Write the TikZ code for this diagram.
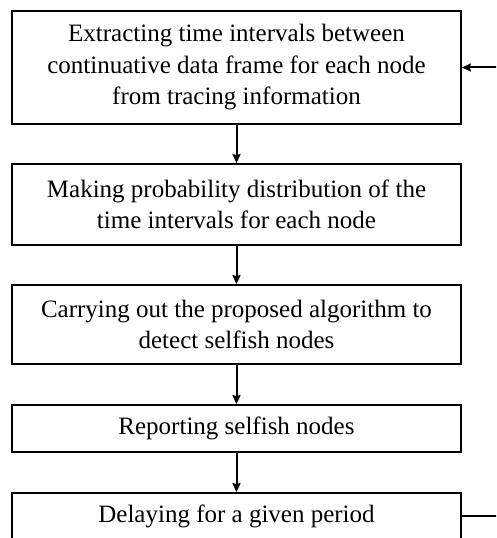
\documentclass[tikz,border=0pt]{standalone}
\usepackage{fontspec}
\setmainfont{Liberation Serif}
\usetikzlibrary{arrows.meta}
\begin{document}
\begin{tikzpicture}[x=1pt,y=1pt,
  stepbox/.style={draw, line width=1.7pt, minimum width=449pt, align=center, inner sep=0pt,
    font=\fontsize{25}{31.5}\selectfont},
  flow/.style={line width=2pt, -{Stealth[length=9pt,width=8pt,inset=1pt]}}]
\useasboundingbox (0,0) rectangle (496,538);
\clip (0,0) rectangle (496,538);
\node[stepbox, minimum height=113pt] (b1) at (236.5,470.5)
  {Extracting time intervals between\\continuative data frame for each node\\from tracing information};
\node[stepbox, minimum height=81pt] (b2) at (236.5,333.5)
  {Making probability distribution of the\\time intervals for each node};
\node[stepbox, minimum height=79pt] (b3) at (236.5,213.5)
  {Carrying out the proposed algorithm to\\detect selfish nodes};
\node[stepbox, minimum height=47pt] (b4) at (236.5,109.5)
  {Reporting selfish nodes};
\node[stepbox, minimum height=47pt] (b5) at (236.5,21.5)
  {Delaying for a given period};
\draw[flow] (b1) -- (b2);
\draw[flow] (b2) -- (b3);
\draw[flow] (b3) -- (b4);
\draw[flow] (b4) -- (b5);
\draw[flow] (b5.east) -- ++(49pt,0) |- (b1.east);
\end{tikzpicture}
\end{document}
